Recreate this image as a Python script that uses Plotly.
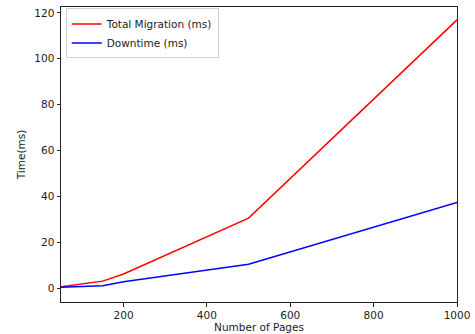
import plotly.graph_objects as go

pages = [50, 150, 200, 500, 1000]
total_migration = [0.5, 3.0, 6.1, 30.5, 117.0]
downtime = [0.3, 1.0, 2.7, 10.4, 37.3]

x_ticks = [200, 400, 600, 800, 1000]
y_ticks = [0, 20, 40, 60, 80, 100, 120]

font = dict(family="DejaVu Sans", size=10.5, color="#222222")
legend_font = dict(family="DejaVu Sans", size=10.5, color="#222222")

fig = go.Figure()
fig.add_trace(go.Scatter(x=pages, y=total_migration, mode="lines",
                         name="Total Migration (ms)", line=dict(color="#ff0000", width=1.5)))
fig.add_trace(go.Scatter(x=pages, y=downtime, mode="lines",
                         name="Downtime (ms)", line=dict(color="#0000ff", width=1.5)))

axis_common = dict(showgrid=False, zeroline=False, showline=True, linecolor="#222222",
                   linewidth=1, mirror=True, ticks="outside", ticklen=3.5, tickwidth=1,
                   tickcolor="#222222", tickfont=font, automargin=False)

fig.update_layout(
    width=475, height=334,
    margin=dict(l=61, r=18, t=7, b=32, autoexpand=False),
    paper_bgcolor="white", plot_bgcolor="white",
    font=font,
    showlegend=True,
    legend=dict(x=0.012, y=0.995, xanchor="left", yanchor="top",
                bordercolor="#d0d0d0", borderwidth=1, bgcolor="rgba(255,255,255,0.8)",
                font=legend_font, tracegroupgap=0, itemwidth=30),
    xaxis=dict(range=[50, 1000], tickvals=x_ticks, ticktext=[str(v) for v in x_ticks],
               title=dict(text="Number of Pages", font=font, standoff=2), **axis_common),
    yaxis=dict(range=[-6.1, 122.6], tickvals=y_ticks, ticktext=[str(v) for v in y_ticks],
               title=dict(text="Time(ms)", font=font, standoff=6), **axis_common),
)

fig.write_html("out.html", config={"displayModeBar": False},
               post_script="document.body.style.margin='0';document.body.style.overflow='hidden';")
